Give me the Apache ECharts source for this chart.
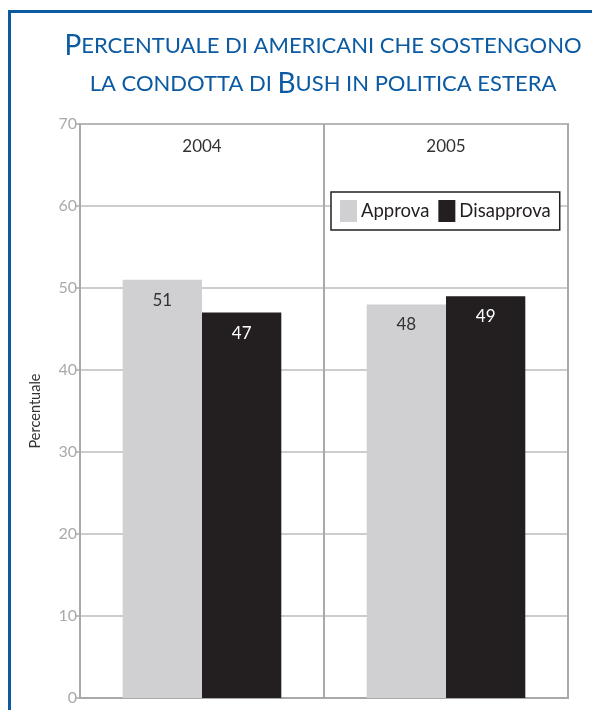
<!DOCTYPE html>
<html>
<head>
<meta charset="utf-8">
<script src="https://cdn.jsdelivr.net/npm/echarts@6/dist/echarts.min.js"></script>
<style>
  html, body { margin: 0; padding: 0; background: #fff; }
  #chart { width: 592px; height: 710px; }
</style>
</head>
<body>
<div id="chart"></div>
<script>
// dati
var anni = ['2004', '2005'];
var approva = [51, 48];
var disapprova = [47, 49];
var tickMax = 70;
var tickStep = 10;

var blu = '#0b5aa2';
var grigioAsse = '#a9a9ab';
var fontFam = 'Lato, "Open Sans", sans-serif';

var chart = echarts.init(document.getElementById('chart'));

var option = {
  animation: false,
  backgroundColor: '#fff',
  textStyle: { fontFamily: fontFam },
  title: {
    left: 318,
    top: 22,
    textAlign: 'center',
    text: '{b|P}{s|ERCENTUALE DI AMERICANI CHE SOSTENGONO}\n{s|LA CONDOTTA DI }{b|B}{s|USH IN POLITICA ESTERA}',
    textStyle: {
      fontWeight: 'normal',
      rich: {
        b: { fontSize: 28, color: blu, fontFamily: fontFam, fontWeight: 'normal', lineHeight: 38 },
        s: { fontSize: 22, color: blu, fontFamily: fontFam, fontWeight: 'normal', lineHeight: 38 }
      }
    }
  },
  graphic: [{
    type: 'polyline',
    shape: { points: [[9.5, 710], [9.5, 11.5], [592, 11.5]] },
    style: { stroke: blu, lineWidth: 3, fill: null }
  }],
  legend: {
    left: 331,
    top: 192,
    data: ['Approva', 'Disapprova'],
    icon: 'rect',
    itemWidth: 17,
    itemHeight: 22,
    itemGap: 9,
    padding: [8, 9, 8, 9],
    borderColor: '#231f20',
    borderWidth: 1.5,
    borderRadius: 0,
    backgroundColor: '#fff',
    textStyle: { fontSize: 18.5, color: '#231f20', padding: [0, 0, 0, -1] }
  },
  grid: {
    left: 80,
    right: 24,
    top: 124,
    bottom: 12,
    show: true,
    borderColor: grigioAsse,
    borderWidth: 2
  },
  xAxis: {
    type: 'category',
    position: 'top',
    data: anni,
    axisLine: { show: true, lineStyle: { color: grigioAsse, width: 2 } },
    axisTick: { show: false },
    axisLabel: { inside: true, margin: 14, fontSize: 17, color: '#333' },
    splitLine: { show: true, lineStyle: { color: grigioAsse, width: 2 } }
  },
  yAxis: {
    type: 'value',
    min: 0,
    max: tickMax,
    interval: tickStep,
    name: 'Percentuale',
    nameLocation: 'middle',
    nameRotate: 90,
    nameGap: 37,
    nameTextStyle: { fontSize: 14.5, color: '#333' },
    axisLine: { show: true, lineStyle: { color: grigioAsse, width: 2 } },
    axisTick: { show: true, length: 5, lineStyle: { color: grigioAsse, width: 1.5 } },
    axisLabel: { fontSize: 16, color: '#aaaaac', margin: 3 },
    splitLine: { show: true, lineStyle: { color: '#bcbcbe', width: 1.5 } }
  },
  series: [
    {
      name: 'Approva',
      type: 'bar',
      data: approva,
      barGap: '0%',
      barCategoryGap: '35%',
      itemStyle: { color: '#d0d0d2' },
      label: { show: true, position: 'insideTop', distance: 12, fontSize: 17, color: '#333' }
    },
    {
      name: 'Disapprova',
      type: 'bar',
      data: disapprova,
      itemStyle: { color: '#231f20' },
      label: { show: true, position: 'insideTop', distance: 12, fontSize: 17, color: '#fff' }
    }
  ]
};

chart.setOption(option);
</script>
</body>
</html>
